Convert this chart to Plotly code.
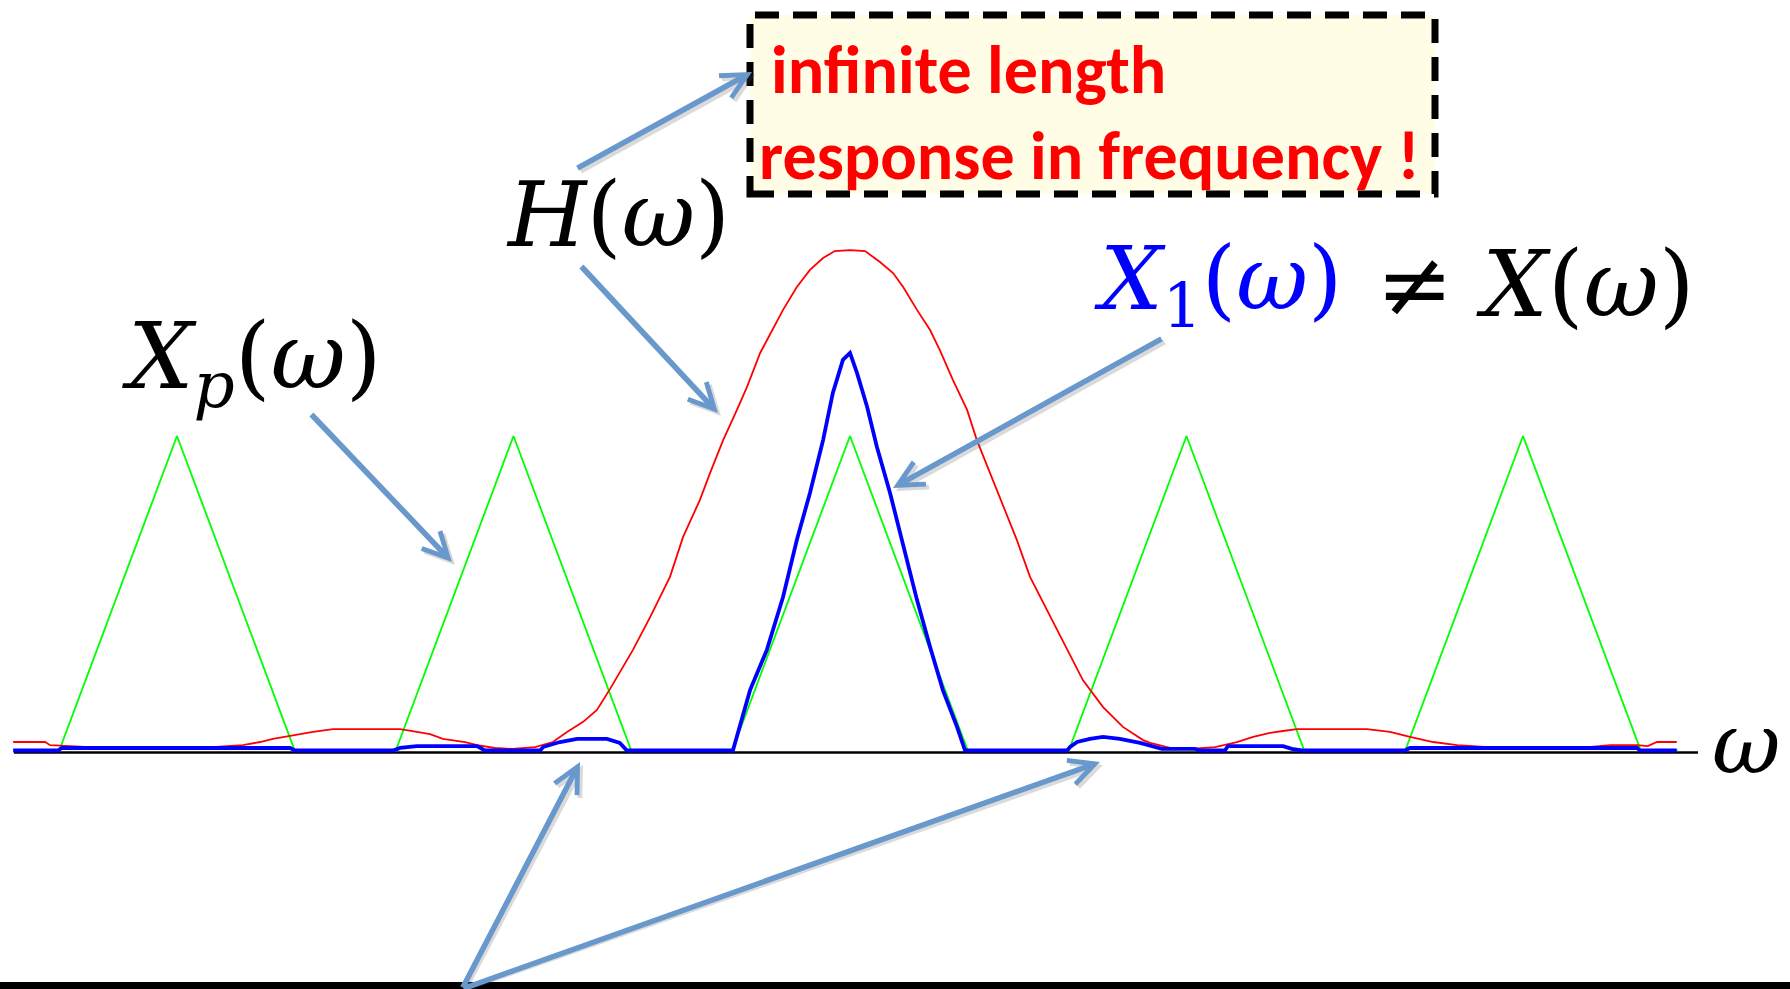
import plotly.graph_objects as go

W, H = 1790, 989

# Frequency axis in units of the sampling frequency; amplitude in units of the X_p(ω) peak.
xp_w = [-2.48, -2.35, -2.0, -1.65, -1.35, -1.0, -0.65, -0.35, 0.0, 0.35, 0.65, 1.0, 1.35, 1.65, 2.0, 2.35, 2.46]
xp_amp = [0, 0, 1, 0, 0, 1, 0, 0, 1, 0, 0, 1, 0, 0, 1, 0, 0]

# H(ω): interpolation filter response (main lobe plus side lobes)
h_w = [-2.487, -2.392, -2.377, -2.259, -2.080, -1.932, -1.804, -1.753, -1.715, -1.673,
       -1.634, -1.596, -1.536, -1.435, -1.337, -1.287, -1.248, -1.210, -1.144, -1.108,
       -1.055, -1.004, -0.936, -0.883, -0.841, -0.793, -0.752, -0.713, -0.645, -0.594,
       -0.535, -0.496, -0.446, -0.416, -0.377, -0.336, -0.306, -0.267, -0.229, -0.199,
       -0.158, -0.119, -0.080, -0.045, 0.0, 0.045, 0.089, 0.128, 0.158, 0.199,
       0.238, 0.267, 0.306, 0.348, 0.377, 0.416, 0.455, 0.496, 0.535, 0.585,
       0.633, 0.692, 0.752, 0.811, 0.871, 0.892, 0.951, 1.010, 1.085, 1.150,
       1.198, 1.248, 1.287, 1.328, 1.536, 1.605, 1.664, 1.733, 1.804, 1.932,
       2.169, 2.259, 2.339, 2.371, 2.398, 2.457]
h_amp = [0.027, 0.027, 0.017, 0.011, 0.008, 0.008, 0.017, 0.027, 0.037, 0.046,
         0.052, 0.059, 0.068, 0.068, 0.068, 0.059, 0.052, 0.037, 0.027, 0.017,
         0.008, 0.005, 0.011, 0.027, 0.059, 0.091, 0.129, 0.196, 0.320, 0.424,
         0.552, 0.679, 0.797, 0.882, 0.987, 1.083, 1.156, 1.264, 1.343, 1.401,
         1.474, 1.528, 1.566, 1.588, 1.591, 1.588, 1.553, 1.518, 1.474, 1.401,
         1.337, 1.273, 1.178, 1.083, 0.987, 0.882, 0.774, 0.669, 0.552, 0.447,
         0.351, 0.224, 0.138, 0.075, 0.033, 0.024, 0.008, 0.005, 0.011, 0.027,
         0.043, 0.056, 0.062, 0.068, 0.068, 0.059, 0.043, 0.027, 0.017, 0.008,
         0.008, 0.017, 0.017, 0.014, 0.027, 0.027]

# X_1(ω) = H(ω) · X_p(ω)
x1_w = [-2.487, -2.354, -2.342, -1.664, -1.649, -1.358, -1.337, -1.287, -1.108, -1.085,
        -0.921, -0.912, -0.862, -0.811, -0.722, -0.684, -0.663, -0.348, -0.297, -0.247,
        -0.199, -0.158, -0.119, -0.080, -0.051, -0.021, 0.0, 0.021, 0.051, 0.080,
        0.119, 0.158, 0.199, 0.238, 0.276, 0.318, 0.342, 0.645, 0.654, 0.675,
        0.713, 0.752, 0.802, 0.862, 0.912, 0.927, 1.025, 1.040, 1.114, 1.123,
        1.287, 1.313, 1.343, 1.649, 1.664, 2.339, 2.348, 2.457]
x1_amp = [0, 0, 0.008, 0.008, 0, 0, 0.008, 0.014, 0.014, 0,
          0, 0.011, 0.027, 0.037, 0.037, 0.024, 0, 0, 0.192, 0.320,
          0.488, 0.669, 0.819, 0.987, 1.137, 1.242, 1.264, 1.200, 1.092, 0.965,
          0.819, 0.647, 0.479, 0.329, 0.192, 0.075, 0, 0, 0.011, 0.027,
          0.037, 0.043, 0.037, 0.024, 0.011, 0.005, 0.005, 0, 0, 0.014,
          0.014, 0.005, 0, 0, 0.008, 0.008, 0, 0]

# Pixel frame of the drawing: ω = 0 at x = 850 px, one period = 336.5 px,
# zero amplitude at y = 750.5 px, unit amplitude = 314.5 px.
X0_PX, X_SCALE = 850.0, 336.5
Y0_PX, Y_SCALE = 750.5, 314.5
x_range = [(0 - X0_PX) / X_SCALE, (W - X0_PX) / X_SCALE]
y_range = [(Y0_PX - H) / Y_SCALE, Y0_PX / Y_SCALE]


def px(x):
    return x / W


def py(y):
    return 1 - y / H


fig = go.Figure()
fig.add_trace(go.Scatter(x=xp_w, y=xp_amp, mode="lines", line=dict(color="#00FF00", width=1.8),
                         hoverinfo="skip"))
fig.add_trace(go.Scatter(x=h_w, y=h_amp, mode="lines", line=dict(color="#FF0000", width=1.8),
                         hoverinfo="skip"))
fig.add_trace(go.Scatter(x=x1_w, y=x1_amp, mode="lines", line=dict(color="#0000FF", width=3.8),
                         hoverinfo="skip"))

shapes = [
    # ω axis
    dict(type="line", xref="paper", yref="paper", x0=px(14), x1=px(1698), y0=py(752.5), y1=py(752.5),
         line=dict(color="black", width=2.5), layer="below"),
    # note box
    dict(type="rect", xref="paper", yref="paper", x0=px(750), x1=px(1435), y0=py(194), y1=py(15),
         fillcolor="#FFFDE6", line=dict(color="black", width=7, dash="24px,14px")),
    # bottom rule
    dict(type="rect", xref="paper", yref="paper", x0=0, x1=1, y0=0, y1=py(982),
         fillcolor="black", line=dict(width=0)),
]

ARROW = "#6898CC"
arrows = [
    ((576, 169), (752, 72)),
    ((580, 265), (718, 413)),
    ((310, 413), (452, 562)),
    ((1163, 338), (893, 488)),
    ((462, 990), (580, 762)),
    ((462, 990), (1100, 762)),
]

annotations = []
for color, dx, dy in [("rgba(90,90,90,0.22)", 3, 3), (ARROW, 0, 0)]:
    for (tx, ty), (hx, hy) in arrows:
        annotations.append(dict(
            x=px(hx + dx), y=py(hy + dy), xref="paper", yref="paper",
            ax=tx - hx, ay=ty - hy, axref="pixel", ayref="pixel",
            text="", showarrow=True, arrowhead=5, arrowsize=0.9, arrowwidth=5.5,
            arrowcolor=color, standoff=0))

MATH = "DejaVu Serif"
BOX = "Carlito, Lato, sans-serif"


def label(text, x, y, size, color="black", family=MATH):
    annotations.append(dict(text=text, x=px(x), y=py(y), xref="paper", yref="paper",
                            xanchor="left", yanchor="middle", showarrow=False,
                            font=dict(family=family, size=size, color=color)))


label("<i>H</i>(<i>ω</i>)", 504, 214, 90)
label("<i>X</i><sub><i>p</i></sub>(<i>ω</i>)", 120, 362, 92)
label("<i>X</i><sub>1</sub>(<i>ω</i>)", 1092, 284, 88, color="#0000FF")
label("≠ <i>X</i>(<i>ω</i>)", 1374, 284, 92)
label("<i>ω</i>", 1710, 744, 84)
label("<b>infinite length</b>", 769, 70, 68, color="#FF0000", family=BOX)
label("<b>response in frequency !</b>", 757, 155, 68, color="#FF0000", family=BOX)

fig.update_layout(
    width=W, height=H, margin=dict(l=0, r=0, t=0, b=0),
    paper_bgcolor="white", plot_bgcolor="white", showlegend=False,
    xaxis=dict(range=x_range, visible=False, fixedrange=True),
    yaxis=dict(range=y_range, visible=False, fixedrange=True),
    shapes=shapes, annotations=annotations,
)

fig.write_html("out.html")
